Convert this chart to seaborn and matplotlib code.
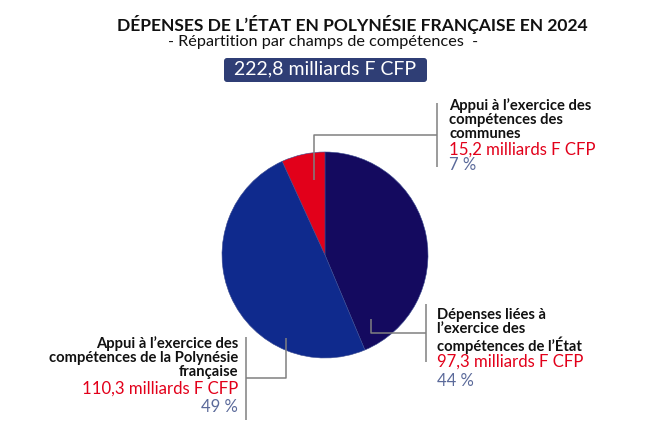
import matplotlib.pyplot as plt
import seaborn as sns
from matplotlib.patches import FancyBboxPatch

# data
categories = ["Dépenses liées à\nl’exercice des\ncompétences de l’État",
              "Appui à l’exercice des\ncompétences de la Polynésie\nfrançaise",
              "Appui à l’exercice des\ncompétences des\ncommunes"]
amounts = [97.3, 110.3, 15.2]
amount_labels = ["97,3 milliards F CFP", "110,3 milliards F CFP", "15,2 milliards F CFP"]
pct_labels = ["44 %", "49 %", "7 %"]
total_label = "222,8 milliards F CFP"
colors = ["#140a5f", "#0f2a8d", "#e2001a"]

sns.set_theme(style="white")
plt.rcParams["font.family"] = ["Lato", "DejaVu Sans"]

W, H = 656, 442
fig = plt.figure(figsize=(W / 100, H / 100), dpi=100)
ax = fig.add_axes([0, 0, 1, 1])


def Y(y):
    # pixel row from top -> data y
    return H - y


RED = "#e2001a"
PCT = "#5b6a9a"
LINE = "#808080"

# pie
ax.pie(amounts, colors=colors, startangle=90, counterclock=False,
       center=(325, Y(255)), radius=103, frame=True,
       wedgeprops=dict(linewidth=0.4, edgecolor="#3a4a90"))
ax.set_xlim(0, W)
ax.set_ylim(0, H)
ax.set_aspect("equal")
ax.axis("off")

# title block
ax.text(352, Y(24), "DÉPENSES DE L’ÉTAT EN POLYNÉSIE FRANÇAISE EN 2024",
        ha="center", va="center", fontsize=12.6, fontweight="bold", color="#111111")
ax.text(323, Y(42), "- Répartition par champs de compétences  -",
        ha="center", va="center", fontsize=11.7, color="#111111")
ax.add_patch(FancyBboxPatch((225, Y(81)), 201, 22,
                            boxstyle="round,pad=1,rounding_size=3",
                            facecolor="#2f3e75", edgecolor="none"))
ax.text(325, Y(69), total_label, ha="center", va="center",
        fontsize=14, color="white")


# connector lines
def poly(xs, ys):
    ax.plot(xs, [Y(v) for v in ys], color=LINE, lw=1.1, solid_capstyle="butt")


# État (navy)
poly([371, 371, 426], [319, 333, 333])
poly([426, 426], [304, 362])
# Polynésie (blue)
poly([286, 286, 246], [338, 378, 378])
poly([246, 246], [337, 420])
# communes (red)
poly([314, 314, 437], [180, 135, 135])
poly([437, 437], [103, 167])

bold = dict(fontsize=10.6, fontweight="bold", color="#111111", linespacing=1.02)
amt = dict(fontsize=12.1, color=RED)
pct = dict(fontsize=12, color=PCT)

# État label
ax.text(437, Y(354), categories[0], ha="left", va="bottom", **bold)
ax.text(437, Y(362), amount_labels[0], ha="left", va="center", **amt)
ax.text(437, Y(381), pct_labels[0], ha="left", va="center", **pct)

# Polynésie label
ax.text(238, Y(379), categories[1], ha="right", va="bottom", multialignment="right", **bold)
ax.text(238, Y(389), amount_labels[1], ha="right", va="center", **amt)
ax.text(238, Y(407), pct_labels[1], ha="right", va="center", **pct)

# communes label
ax.text(449, Y(141), categories[2], ha="left", va="bottom", **bold)
ax.text(449, Y(150), amount_labels[2], ha="left", va="center", **amt)
ax.text(449, Y(165), pct_labels[2], ha="left", va="center", **pct)

fig.savefig("out.png", dpi=100)
